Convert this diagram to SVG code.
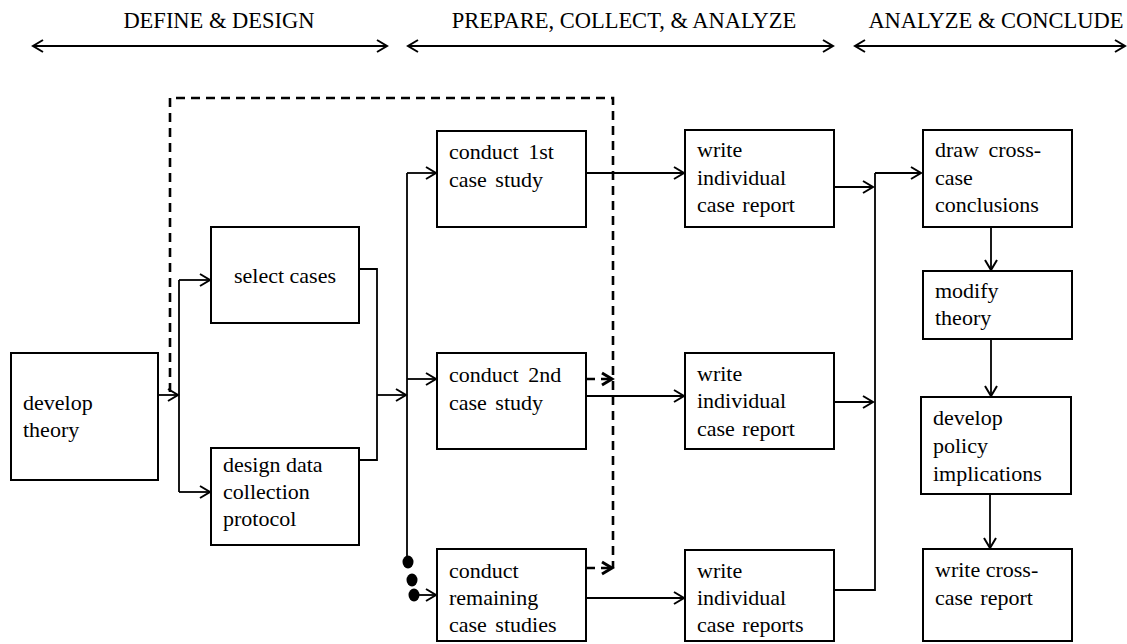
<svg xmlns="http://www.w3.org/2000/svg" width="1127" height="644" viewBox="0 0 1127 644">
<defs>
<marker id="arr" markerUnits="userSpaceOnUse" markerWidth="14" markerHeight="16" refX="11" refY="7" orient="auto-start-reverse" overflow="visible">
<path d="M1,1 L11,7 L1,13" fill="none" stroke="#000" stroke-width="2"/>
</marker>
<marker id="arrd" markerUnits="userSpaceOnUse" markerWidth="14" markerHeight="16" refX="11" refY="7" orient="auto" overflow="visible">
<path d="M1,1 L11,7 L1,13" fill="none" stroke="#000" stroke-width="3"/>
</marker>
<style>
.box{fill:#fff;stroke:#000;stroke-width:2}
.t{font-family:'Liberation Serif','DejaVu Serif',serif;font-size:22px;fill:#000}
.h{font-family:'Liberation Serif','DejaVu Serif',serif;font-size:22.5px;fill:#000}
.c{fill:none;stroke:#000;stroke-width:1.8}
.a{marker-end:url(#arr)}
.d{fill:none;stroke:#000;stroke-width:2.6;stroke-dasharray:9,6}
.dh{fill:none;stroke:#000;stroke-width:2.6;stroke-dasharray:9,6;marker-end:url(#arrd)}
</style>
</defs>
<rect width="1127" height="644" fill="#fff"/>
<g id="headers">
<text class="h" x="219" y="28" text-anchor="middle">DEFINE &amp; DESIGN</text>
<text class="h" x="624" y="28" text-anchor="middle">PREPARE, COLLECT, &amp; ANALYZE</text>
<text class="h" x="996" y="28" text-anchor="middle">ANALYZE &amp; CONCLUDE</text>
<line class="c" x1="33" y1="46" x2="387" y2="46" marker-start="url(#arr)" marker-end="url(#arr)"/>
<line class="c" x1="408" y1="46" x2="833" y2="46" marker-start="url(#arr)" marker-end="url(#arr)"/>
<line class="c" x1="855" y1="46" x2="1125" y2="46" marker-start="url(#arr)" marker-end="url(#arr)"/>
</g>
<g id="connectors">
<path class="d" d="M170,392 V98 H613 V568"/>
<path class="c a" d="M158,395 H178"/>
<path class="c" d="M179,280 V492"/>
<path class="c a" d="M179,280 H210"/>
<path class="c a" d="M179,492 H210"/>
<path class="c" d="M359,269 H377 V460 H359"/>
<path class="c a" d="M377,395 H406"/>
<path class="c" d="M407,173 V558"/>
<path class="c a" d="M407,173 H436"/>
<path class="c a" d="M407,379 H436"/>
<ellipse cx="408" cy="562" rx="5.5" ry="6.5"/>
<ellipse cx="412" cy="580" rx="5.5" ry="6.5"/>
<ellipse cx="414" cy="595" rx="5.5" ry="6.5"/>
<path class="c a" d="M414,595 H436"/>
<path class="c a" d="M586,173 H684"/>
<path class="c a" d="M586,396 H684"/>
<path class="c a" d="M586,598 H684"/>
<path class="dh" d="M586,379 H612"/>
<path class="dh" d="M586,568 H612"/>
<path class="c a" d="M834,187 H873"/>
<path class="c a" d="M834,402 H873"/>
<path class="c" d="M834,590 H875 V173"/>
<path class="c a" d="M875,173 H921"/>
<path class="c a" d="M991,227 V270"/>
<path class="c a" d="M991,339 V396"/>
<path class="c a" d="M990,494 V548"/>
</g>
<g id="develop-theory">
<rect class="box" x="11" y="353" width="147" height="127"/>
<text class="t" x="23" y="410">develop</text>
<text class="t" x="23" y="437">theory</text>
</g>
<g id="select-cases">
<rect class="box" x="211" y="227" width="148" height="96"/>
<text class="t" x="285" y="283" text-anchor="middle">select cases</text>
</g>
<g id="design-protocol">
<rect class="box" x="211" y="448" width="148" height="97"/>
<text class="t" x="223" y="472">design data</text>
<text class="t" x="223" y="499">collection</text>
<text class="t" x="223" y="526">protocol</text>
</g>
<g id="conduct-1st">
<rect class="box" x="437" y="131" width="149" height="96"/>
<text class="t" x="449" y="159" word-spacing="4">conduct 1st</text>
<text class="t" x="449" y="187" word-spacing="3">case study</text>
</g>
<g id="conduct-2nd">
<rect class="box" x="437" y="353" width="149" height="96"/>
<text class="t" x="449" y="382" word-spacing="4">conduct 2nd</text>
<text class="t" x="449" y="410" word-spacing="3">case study</text>
</g>
<g id="conduct-remaining">
<rect class="box" x="437" y="549" width="149" height="92"/>
<text class="t" x="449" y="578">conduct</text>
<text class="t" x="449" y="605">remaining</text>
<text class="t" x="449" y="632" word-spacing="3">case studies</text>
</g>
<g id="write-1">
<rect class="box" x="685" y="130" width="149" height="97"/>
<text class="t" x="697" y="157">write</text>
<text class="t" x="697" y="185">individual</text>
<text class="t" x="697" y="212" word-spacing="2">case report</text>
</g>
<g id="write-2">
<rect class="box" x="685" y="353" width="149" height="96"/>
<text class="t" x="697" y="381">write</text>
<text class="t" x="697" y="408">individual</text>
<text class="t" x="697" y="436" word-spacing="2">case report</text>
</g>
<g id="write-3">
<rect class="box" x="685" y="550" width="149" height="91"/>
<text class="t" x="697" y="578">write</text>
<text class="t" x="697" y="605">individual</text>
<text class="t" x="697" y="632" word-spacing="2">case reports</text>
</g>
<g id="draw-conclusions">
<rect class="box" x="923" y="130" width="149" height="97"/>
<text class="t" x="935" y="157" word-spacing="4">draw cross-</text>
<text class="t" x="935" y="185">case</text>
<text class="t" x="935" y="212">conclusions</text>
</g>
<g id="modify-theory">
<rect class="box" x="923" y="271" width="149" height="68"/>
<text class="t" x="935" y="298">modify</text>
<text class="t" x="935" y="325">theory</text>
</g>
<g id="policy-implications">
<rect class="box" x="921" y="397" width="150" height="97"/>
<text class="t" x="933" y="425">develop</text>
<text class="t" x="933" y="453">policy</text>
<text class="t" x="933" y="481">implications</text>
</g>
<g id="write-cross-case">
<rect class="box" x="923" y="549" width="149" height="92"/>
<text class="t" x="935" y="577">write cross-</text>
<text class="t" x="935" y="605" word-spacing="2">case report</text>
</g>
</svg>
